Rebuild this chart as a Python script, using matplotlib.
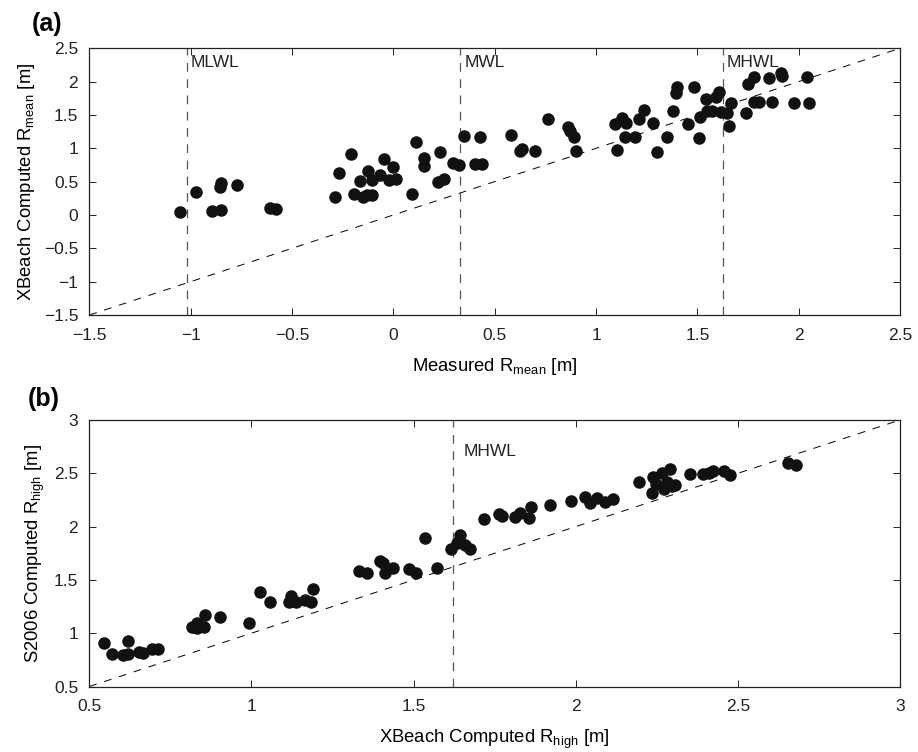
import matplotlib
matplotlib.use("Agg")
import matplotlib.pyplot as plt

plt.rcParams["font.family"] = ["Liberation Sans", "DejaVu Sans"]
plt.rcParams["mathtext.default"] = "regular"

# panel (a): measured vs XBeach R_mean
meas_mean = [-1.055, -0.973, -0.895, -0.849, -0.857, -0.849, -0.772, -0.607, -0.577,
             -0.286, -0.27, -0.209, -0.193, -0.166, -0.15, -0.125, -0.13, -0.105, -0.105,
             -0.067, -0.044, -0.023, -0.002, 0.015, 0.094, 0.114, 0.15, 0.15, 0.232,
             0.219, 0.249, 0.295, 0.323, 0.351, 0.405, 0.438, 0.426, 0.579, 0.627,
             0.635, 0.701, 0.762, 0.861, 0.874, 0.891, 0.899,
             1.105, 1.096, 1.129, 1.146, 1.141, 1.19, 1.211, 1.236, 1.283, 1.302,
             1.352, 1.381, 1.394, 1.401, 1.483, 1.453, 1.508, 1.513, 1.541, 1.546,
             1.574, 1.594, 1.606, 1.615, 1.648, 1.656, 1.664, 1.738, 1.75, 1.779,
             1.779, 1.804, 1.853, 1.866, 1.911, 1.919, 1.977, 2.043, 2.051]
xb_mean = [0.04, 0.35, 0.065, 0.075, 0.425, 0.475, 0.455, 0.10, 0.085,
           0.265, 0.625, 0.915, 0.315, 0.51, 0.275, 0.665, 0.30, 0.30, 0.525,
           0.60, 0.84, 0.525, 0.715, 0.535, 0.31, 1.095, 0.85, 0.735, 0.95,
           0.50, 0.535, 0.785, 0.75, 1.185, 0.765, 0.765, 1.165, 1.20, 0.965,
           0.985, 0.965, 1.445, 1.325, 1.265, 1.165, 0.965,
           0.975, 1.36, 1.45, 1.385, 1.165, 1.165, 1.435, 1.575, 1.375, 0.945,
           1.165, 1.565, 1.835, 1.915, 1.925, 1.36, 1.15, 1.465, 1.735, 1.565,
           1.565, 1.775, 1.85, 1.55, 1.535, 1.335, 1.685, 1.535, 1.96, 2.075,
           1.70, 1.70, 2.05, 1.70, 2.125, 2.085, 1.685, 2.075, 1.675]

# panel (b): XBeach vs S2006 R_high
xb_high = [0.546, 0.569, 0.603, 0.62, 0.62, 0.654, 0.665, 0.692, 0.713, 0.816,
           0.831, 0.833, 0.854, 0.857, 0.903, 0.991, 1.027, 1.056, 1.117, 1.121,
           1.138, 1.166, 1.183, 1.189,
           1.333, 1.356, 1.395, 1.407, 1.412, 1.436, 1.485, 1.506, 1.534, 1.571,
           1.616, 1.642, 1.634, 1.66, 1.675, 1.716, 1.763, 1.773, 1.814, 1.829,
           1.855, 1.863, 1.92, 1.986, 2.03, 2.043, 2.066, 2.089, 2.116,
           2.195, 2.239, 2.236, 2.246, 2.267, 2.272, 2.29, 2.297, 2.282, 2.307,
           2.352, 2.393, 2.41, 2.424, 2.457, 2.475, 2.654, 2.678]
s2006_high = [0.906, 0.806, 0.797, 0.806, 0.931, 0.828, 0.813, 0.85, 0.85, 1.056,
              1.094, 1.047, 1.056, 1.172, 1.15, 1.094, 1.391, 1.288, 1.297, 1.35,
              1.297, 1.313, 1.297, 1.416,
              1.588, 1.569, 1.678, 1.663, 1.569, 1.609, 1.60, 1.569, 1.891, 1.609,
              1.788, 1.922, 1.844, 1.828, 1.788, 2.069, 2.119, 2.10, 2.088, 2.125,
              2.078, 2.181, 2.20, 2.244, 2.275, 2.225, 2.266, 2.234, 2.256,
              2.422, 2.469, 2.319, 2.40, 2.50, 2.35, 2.538, 2.381, 2.422, 2.39,
              2.494, 2.494, 2.50, 2.525, 2.525, 2.484, 2.60, 2.578]

# tidal levels
levels_a = [-1.02, 0.331, 1.625]
level_names_a = ["MLWL", "MWL", "MHWL"]
levels_b = [1.623]
level_names_b = ["MHWL"]

ticks_a = [-1.5, -1, -0.5, 0, 0.5, 1, 1.5, 2, 2.5]
ticklabels_a = ["\u22121.5", "\u22121", "\u22120.5", "0", "0.5", "1", "1.5", "2", "2.5"]
ticks_b = [0.5, 1, 1.5, 2, 2.5, 3]
ticklabels_b = ["0.5", "1", "1.5", "2", "2.5", "3"]

fs = 12.5
lfs = 13.3
dot = "#111111"

fig = plt.figure(figsize=(9.18, 7.52), dpi=100)
ax1 = fig.add_axes([0.0973, 0.5811, 0.8831, 0.3547])
ax2 = fig.add_axes([0.0973, 0.0871, 0.8831, 0.3544])


def style(ax, ticks, labels):
    ax.set_xlim(ticks[0], ticks[-1])
    ax.set_ylim(ticks[0], ticks[-1])
    ax.set_xticks(ticks)
    ax.set_xticklabels(labels)
    ax.set_yticks(ticks)
    ax.set_yticklabels(labels)
    ax.tick_params(direction="in", length=5, width=0.7, labelsize=fs,
                   top=True, right=True, colors="#222222")
    ax.tick_params(axis="x", pad=9)
    ax.tick_params(axis="y", pad=8)
    for sp in ax.spines.values():
        sp.set_linewidth(0.9)
        sp.set_color("#222222")


# (a)
style(ax1, ticks_a, ticklabels_a)
ax1.plot(ticks_a, ticks_a, color="black", lw=0.7, ls=(0, (8, 8)))
for lv, name in zip(levels_a, level_names_a):
    ax1.axvline(lv, color="#555555", lw=0.9, ls=(0, (7, 6)))
    ax1.text(lv + 0.02, 2.285, name, fontsize=fs, va="center", ha="left",
             color="#222222")
ax1.plot(meas_mean, xb_mean, "o", ms=8, color=dot, mec=dot)
ax1.set_xlabel("Measured R$_{mean}$ [m]", fontsize=lfs, labelpad=10)
ax1.set_ylabel("XBeach Computed R$_{mean}$ [m]", fontsize=lfs, labelpad=5)

# (b)
style(ax2, ticks_b, ticklabels_b)
ax2.plot(ticks_b, ticks_b, color="black", lw=0.7, ls=(0, (8, 8)))
for lv, name in zip(levels_b, level_names_b):
    ax2.axvline(lv, color="#555555", lw=0.9, ls=(0, (7, 6)))
    ax2.text(lv + 0.03, 2.70, name, fontsize=fs, va="center", ha="left",
             color="#222222")
ax2.plot(xb_high, s2006_high, "o", ms=8, color=dot, mec=dot)
ax2.set_xlabel("XBeach Computed R$_{high}$ [m]", fontsize=lfs, labelpad=10)
ax2.set_ylabel("S2006 Computed R$_{high}$ [m]", fontsize=lfs, labelpad=5)

fig.text(0.035, 0.968, "(a)", fontsize=18, fontweight="bold", va="center", ha="left")
fig.text(0.030, 0.469, "(b)", fontsize=18, fontweight="bold", va="center", ha="left")

fig.savefig("out.png", dpi=100)
